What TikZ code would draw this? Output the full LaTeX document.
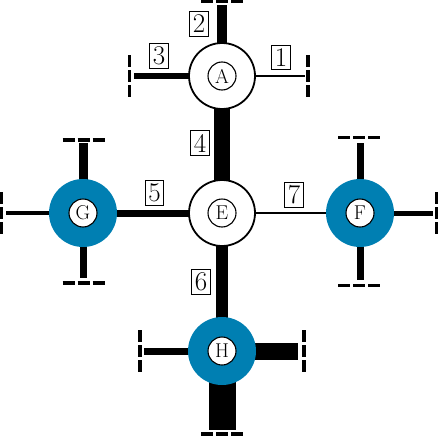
\documentclass[tikz,border=0pt]{standalone}
\usetikzlibrary{backgrounds}
\definecolor{hubblue}{RGB}{0,127,178}
\begin{document}
\begin{tikzpicture}[x=1pt,y=-1pt,
  wnode/.style={circle, draw, line width=1.8pt, fill=white, minimum size=66pt, inner sep=0pt},
  bnode/.style={circle, fill=hubblue, minimum size=68pt, inner sep=0pt},
  lab/.style={circle, draw, line width=1.1pt, fill=white, minimum size=28pt, inner sep=0pt, font=\fontsize{20}{20}\selectfont},
  num/.style={draw, line width=0.8pt, inner sep=3.2pt, fill=white, font=\fontsize{27}{27}\selectfont},
  bar/.style={line width=3.3pt, dash pattern=on 12pt off 3pt},
]
\useasboundingbox (0,0) rectangle (438,436);
% main nodes
\node[wnode] (A) at (222,76) {};
\node[wnode] (E) at (222,213) {};
\node[bnode] (G) at (83,213) {};
\node[bnode] (F) at (360,213) {};
\node[bnode] (H) at (222,351) {};
\node[lab] (Al) at (A) {A};
\node[lab] (El) at (E) {E};
\node[lab] (Gl) at (G) {G};
\node[lab] (Fl) at (F) {F};
\node[lab] (Hl) at (H) {H};
% stub ends
\coordinate (At) at (222,5);
\coordinate (Ar) at (305,76);
\coordinate (Al2) at (134,76);
\coordinate (Gt) at (83,143);
\coordinate (Gb) at (83,278);
\coordinate (Gw) at (6,213);
\coordinate (Ft) at (360,143);
\coordinate (Fb) at (360,280);
\coordinate (Fr) at (433,213);
\coordinate (Hw) at (144,351);
\coordinate (Hr) at (298,351);
\coordinate (Hb) at (222,430);
% bar centres
\coordinate (AtB) at (222,1.5);
\coordinate (ArB) at (308,76);
\coordinate (AlB) at (129.5,76);
\coordinate (GtB) at (83.5,140);
\coordinate (GbB) at (83.5,283);
\coordinate (GwB) at (1.5,213);
\coordinate (FtB) at (359,137.7);
\coordinate (FbB) at (359,285.5);
\coordinate (FrB) at (436.5,213);
\coordinate (HwB) at (140,351);
\coordinate (HrB) at (304,351);
\coordinate (HbB) at (222,434);
% edge labels
\node[num] (n1) at (281,57.5) {1};
\node[num] (n2) at (199,24) {2};
\node[num] (n3) at (159,56) {3};
\node[num] (n4) at (200,143) {4};
\node[num] (n5) at (154.5,193) {5};
\node[num] (n6) at (201,282) {6};
\node[num] (n7) at (294,195) {7};
\begin{pgfonlayer}{background}
  \draw[line width=2.6pt] (A.center) -- (Ar);
  \draw[line width=10pt] (A.center) -- (At);
  \draw[line width=6.5pt] (A.center) -- (Al2);
  \draw[line width=16pt] (A.center) -- (E.center);
  \draw[line width=7pt] (E.center) -- (G.center);
  \draw[line width=11.5pt] (E.center) -- (H.center);
  \draw[line width=2.8pt] (E.center) -- (F.center);
  \draw[line width=9pt] (G.center) -- (Gt);
  \draw[line width=7pt] (G.center) -- (Gb);
  \draw[line width=4.5pt] (G.center) -- (Gw);
  \draw[line width=7pt] (F.center) -- (Ft);
  \draw[line width=7pt] (F.center) -- (Fb);
  \draw[line width=5pt] (F.center) -- (Fr);
  \draw[line width=7pt] (H.center) -- (Hw);
  \draw[line width=17pt] (H.center) -- (Hr);
  \draw[line width=27pt] (H.center) -- (Hb);
  % terminal bars
  \draw[bar] ([xshift=-21pt]AtB) -- ([xshift=21pt]AtB);
  \draw[bar] ([yshift=21pt]ArB) -- ([yshift=-21pt]ArB);
  \draw[bar] ([yshift=21pt]AlB) -- ([yshift=-21pt]AlB);
  \draw[bar] ([xshift=-21pt]GtB) -- ([xshift=21pt]GtB);
  \draw[bar] ([xshift=-21pt]GbB) -- ([xshift=21pt]GbB);
  \draw[bar] ([yshift=21pt]GwB) -- ([yshift=-21pt]GwB);
  \draw[bar] ([xshift=-21pt]FtB) -- ([xshift=21pt]FtB);
  \draw[bar] ([xshift=-21pt]FbB) -- ([xshift=21pt]FbB);
  \draw[bar] ([yshift=21pt]FrB) -- ([yshift=-21pt]FrB);
  \draw[bar] ([yshift=21pt]HwB) -- ([yshift=-21pt]HwB);
  \draw[bar] ([yshift=21pt]HrB) -- ([yshift=-21pt]HrB);
  \draw[bar] ([xshift=-21pt]HbB) -- ([xshift=21pt]HbB);
\end{pgfonlayer}
\end{tikzpicture}
\end{document}
